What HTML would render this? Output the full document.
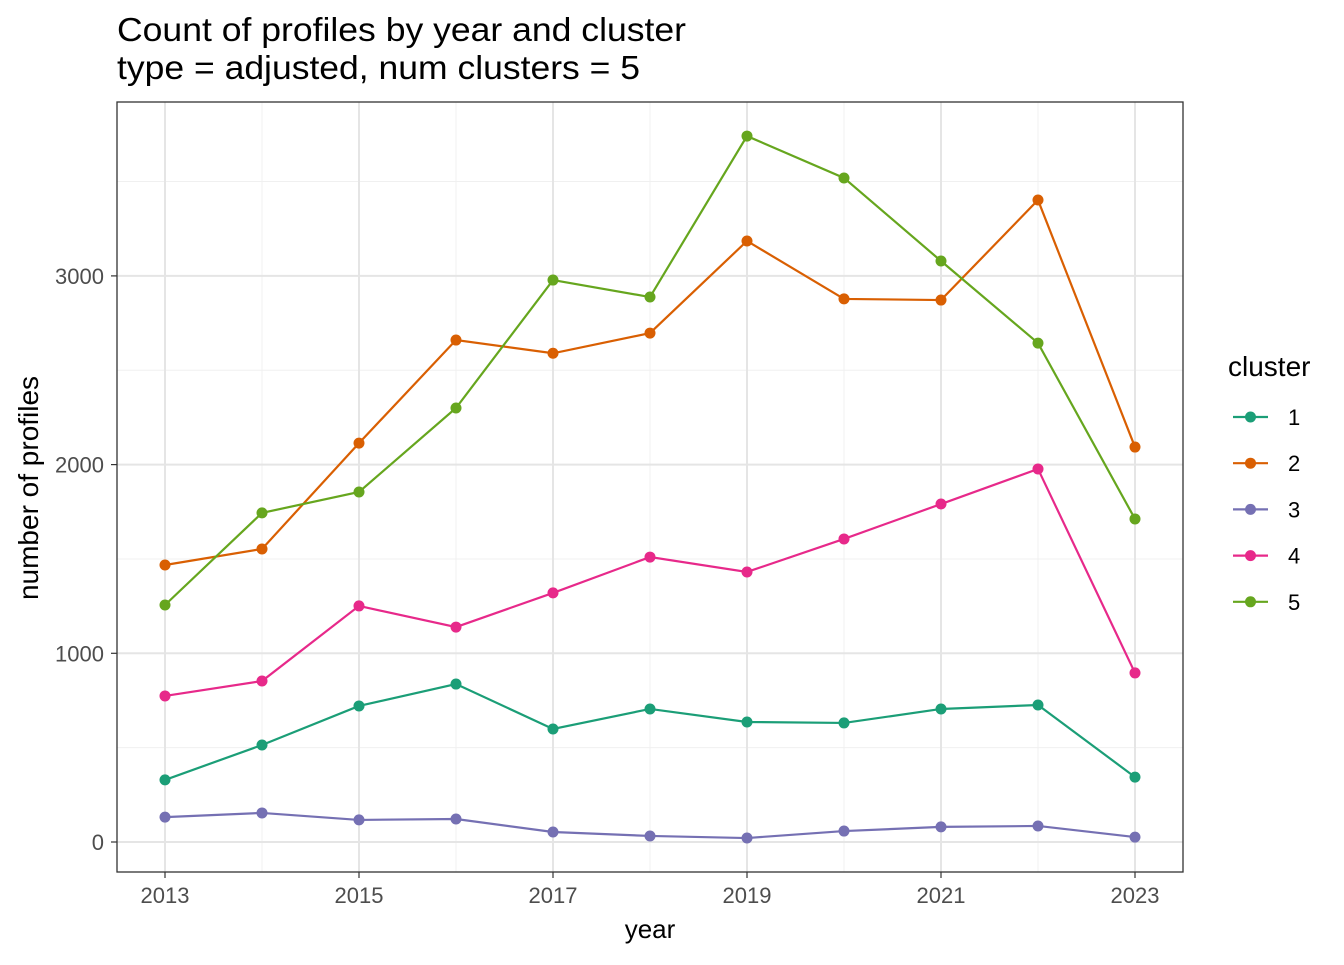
<!DOCTYPE html>
<html><head><meta charset="utf-8"><style>
body{margin:0;background:#fff;font-family:"Liberation Sans",sans-serif;}
</style></head><body>
<svg id="chart" width="1344" height="960" xmlns="http://www.w3.org/2000/svg" font-family="Liberation Sans, sans-serif"></svg>
<script>
const years=[2013,2014,2015,2016,2017,2018,2019,2020,2021,2022,2023];
const cluster1=[329,514,721,837,599,705,636,631,705,726,344];
const cluster2=[1468,1553,2114,2660,2590,2697,3185,2878,2872,3402,2093];
const cluster3=[132,154,117,122,53,32,21,58,80,85,26];
const cluster4=[774,853,1251,1139,1320,1510,1431,1606,1791,1977,896];
const cluster5=[1256,1744,1855,2300,2978,2888,3741,3519,3079,2644,1712];
const yTicks=[0,1000,2000,3000];
const yMinor=[500,1500,2500,3500];
const xTicks=[2013,2015,2017,2019,2021,2023];
const clusterNames=["1","2","3","4","5"];
const colors=["#1B9E77","#D95F02","#7570B3","#E7298A","#66A61E"];
const series=[cluster1,cluster2,cluster3,cluster4,cluster5];

const svg=document.getElementById('chart');
const NS="http://www.w3.org/2000/svg";
const L=117,R=1183,T=102,B=872;
const xs=y=>165+(y-2013)*97;
const ys=v=>842-v*0.18870;
function mk(tag,attrs,parent){const e=document.createElementNS(NS,tag);for(const k in attrs)e.setAttribute(k,attrs[k]);(parent||svg).appendChild(e);return e;}
function txt(s,attrs){const e=mk('text',attrs);e.textContent=s;return e;}

for(const v of yMinor){const l=mk('line',{x1:L,x2:R,y1:ys(v),y2:ys(v),stroke:'#f0f0f0','stroke-width':1});

}
for(let y=2014;y<=2022;y+=2){const l=mk('line',{x1:xs(y),x2:xs(y),y1:T,y2:B,stroke:'#f0f0f0','stroke-width':1});

}
for(const v of yTicks){const l=mk('line',{x1:L,x2:R,y1:ys(v),y2:ys(v),stroke:'#e5e5e5','stroke-width':2});


const t=txt(String(v),{x:104,y:ys(v)+8,'text-anchor':'end','font-size':22,fill:'#4d4d4d'});


mk('line',{x1:111,x2:117,y1:ys(v),y2:ys(v),stroke:'#333','stroke-width':1.2});}
for(const y of xTicks){const l=mk('line',{x1:xs(y),x2:xs(y),y1:T,y2:B,stroke:'#e5e5e5','stroke-width':2});


const t=txt(String(y),{x:xs(y),y:903,'text-anchor':'middle','font-size':22,fill:'#4d4d4d'});


mk('line',{x1:xs(y),x2:xs(y),y1:872,y2:878,stroke:'#333','stroke-width':1.2});}

series.forEach((d,i)=>{
 const p=mk('polyline',{points:d.map((v,j)=>xs(years[j])+','+ys(v)).join(' '),fill:'none',stroke:colors[i],'stroke-width':2.2});
 
 
 d.forEach((v,j)=>{const c=mk('circle',{cx:xs(years[j]),cy:ys(v),r:5.5,fill:colors[i]});
 
 });
});
const fr=mk('rect',{x:L,y:T,width:R-L,height:B-T,fill:'none',stroke:'#333','stroke-width':1.3});



let t=txt('Count of profiles by year and cluster',{x:117,y:41,'font-size':33,fill:'#000',textLength:569,lengthAdjust:'spacingAndGlyphs'});


t=txt('type = adjusted, num clusters = 5',{x:117,y:79,'font-size':33,fill:'#000',textLength:523,lengthAdjust:'spacingAndGlyphs'});


t=txt('year',{x:650,y:938,'text-anchor':'middle','font-size':26,fill:'#000'});


t=txt('number of profiles',{x:0,y:0,'text-anchor':'middle','font-size':28,fill:'#000',transform:'translate(38,488) rotate(-90)'});



t=txt('cluster',{x:1228,y:376,'font-size':28,fill:'#000'});


clusterNames.forEach((n,i)=>{
 const y=417+i*46.2;
 const g=mk('g',{});
 
 
 mk('line',{x1:1233,x2:1268,y1:y,y2:y,stroke:colors[i],'stroke-width':2.2},g);
 mk('circle',{cx:1250.5,cy:y,r:5.5,fill:colors[i]},g);
 const e=mk('text',{x:1288,y:y+8,'font-size':22,fill:'#000'},g);e.textContent=n;
});
</script>
</body></html>
